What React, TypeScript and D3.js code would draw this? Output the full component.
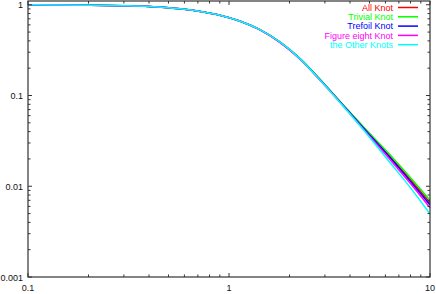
import React, { useEffect, useRef } from 'react';
import * as d3 from 'd3';

const W = 436;
const H = 294;

const xValues = [0.1, 0.2, 0.3, 0.4, 0.57, 0.72, 0.9, 1.13, 1.43, 1.79, 2.25, 2.8, 3.3, 4.65, 6.32, 8, 10];

const allKnot = [0.998, 0.99, 0.977, 0.958, 0.903, 0.844, 0.768, 0.663, 0.528, 0.389, 0.256, 0.155, 0.1035, 0.0447, 0.0213, 0.0118, 0.0066];
const trivialKnot = [0.998, 0.99, 0.977, 0.958, 0.903, 0.844, 0.768, 0.663, 0.528, 0.389, 0.257, 0.156, 0.1037, 0.0456, 0.0222, 0.0124, 0.007];
const trefoilKnot = [0.998, 0.99, 0.977, 0.958, 0.903, 0.844, 0.768, 0.663, 0.528, 0.388, 0.255, 0.154, 0.1033, 0.044, 0.0207, 0.0113, 0.00627];
const figureEightKnot = [0.998, 0.99, 0.977, 0.958, 0.903, 0.844, 0.767, 0.661, 0.525, 0.385, 0.252, 0.152, 0.102, 0.0431, 0.0198, 0.0107, 0.0058];
const otherKnots = [0.998, 0.99, 0.977, 0.958, 0.903, 0.844, 0.768, 0.663, 0.528, 0.389, 0.255, 0.153, 0.102, 0.0422, 0.0183, 0.0096, 0.00495];

const seriesNames = ['All Knot', 'Trivial Knot', 'Trefoil Knot', 'Figure eight Knot', 'the Other Knots'];
const seriesData = [allKnot, trivialKnot, trefoilKnot, figureEightKnot, otherKnots];
const seriesColors = ['#ff0000', '#00ff00', '#0000ff', '#ff00ff', '#00ffff'];

const xTickLabels = ['0.1', '1', '10'];
const yTickLabels = ['0.001', '0.01', '0.1', '1'];

export default function App() {
    const ref = useRef<SVGSVGElement>(null);

    useEffect(() => {
        const left = 28, right = 430, top = 1, bottom = 277;
        const svg = d3.select(ref.current);
        svg.selectAll('*').remove();

        const x = d3.scaleLog().domain([0.1, 10]).range([left, right]);
        const y = d3.scaleLog().domain([0.001, 1.1]).range([bottom, top]);
        const font = '"Liberation Sans", Arial, sans-serif';
        const axisColor = '#333';

        // curves
        const line = d3.line<number>()
            .x((d, i) => x(xValues[i]))
            .y(d => y(d))
            .curve(d3.curveMonotoneX);

        seriesData.forEach((data, k) => {
            svg.append('path')
                .attr('d', line(data))
                .attr('fill', 'none')
                .attr('stroke', seriesColors[k])
                .attr('stroke-width', 1.5);
        });

        // frame
        svg.append('rect')
            .attr('x', left).attr('y', top)
            .attr('width', right - left).attr('height', bottom - top)
            .attr('fill', 'none').attr('stroke', axisColor).attr('stroke-width', 1.2);

        const isMajor = (v: number) => Math.abs(Math.log10(v) - Math.round(Math.log10(v))) < 1e-6;

        const ticks = svg.append('g').attr('stroke', axisColor).attr('stroke-width', 1);
        x.ticks().forEach(v => {
            const len = isMajor(v) ? 4 : 2.5;
            const px = x(v);
            ticks.append('line').attr('x1', px).attr('x2', px).attr('y1', bottom).attr('y2', bottom - len);
            ticks.append('line').attr('x1', px).attr('x2', px).attr('y1', top).attr('y2', top + len);
        });
        y.ticks().filter(v => v <= 1).forEach(v => {
            const len = isMajor(v) ? 4 : 2.5;
            const py = y(v);
            ticks.append('line').attr('x1', left).attr('x2', left + len).attr('y1', py).attr('y2', py);
            ticks.append('line').attr('x1', right).attr('x2', right - len).attr('y1', py).attr('y2', py);
        });

        // tick labels
        xTickLabels.forEach(t => {
            svg.append('text')
                .attr('x', x(+t)).attr('y', 291)
                .attr('text-anchor', 'middle')
                .attr('font-family', font).attr('font-size', 9)
                .attr('fill', '#111')
                .text(t);
        });
        yTickLabels.forEach(t => {
            svg.append('text')
                .attr('x', 23).attr('y', y(+t) + 3.5)
                .attr('text-anchor', 'end')
                .attr('font-family', font).attr('font-size', 9)
                .attr('fill', '#111')
                .text(t);
        });

        // legend
        seriesNames.forEach((name, k) => {
            const ly = 7.5 + k * 9.3;
            svg.append('text')
                .attr('x', 393).attr('y', ly + 3.3)
                .attr('text-anchor', 'end')
                .attr('font-family', font).attr('font-size', 9)
                .attr('fill', seriesColors[k])
                .text(name);
            svg.append('line')
                .attr('x1', 398).attr('x2', 418)
                .attr('y1', ly).attr('y2', ly)
                .attr('stroke', seriesColors[k]).attr('stroke-width', 1.5);
        });
    }, []);

    return (
        <div style={{ position: 'absolute', left: 0, top: 0 }}>
            <svg xmlns="http://www.w3.org/2000/svg" ref={ref} width={W} height={H} style={{ display: 'block', background: '#fff' }} />
        </div>
    );
}
